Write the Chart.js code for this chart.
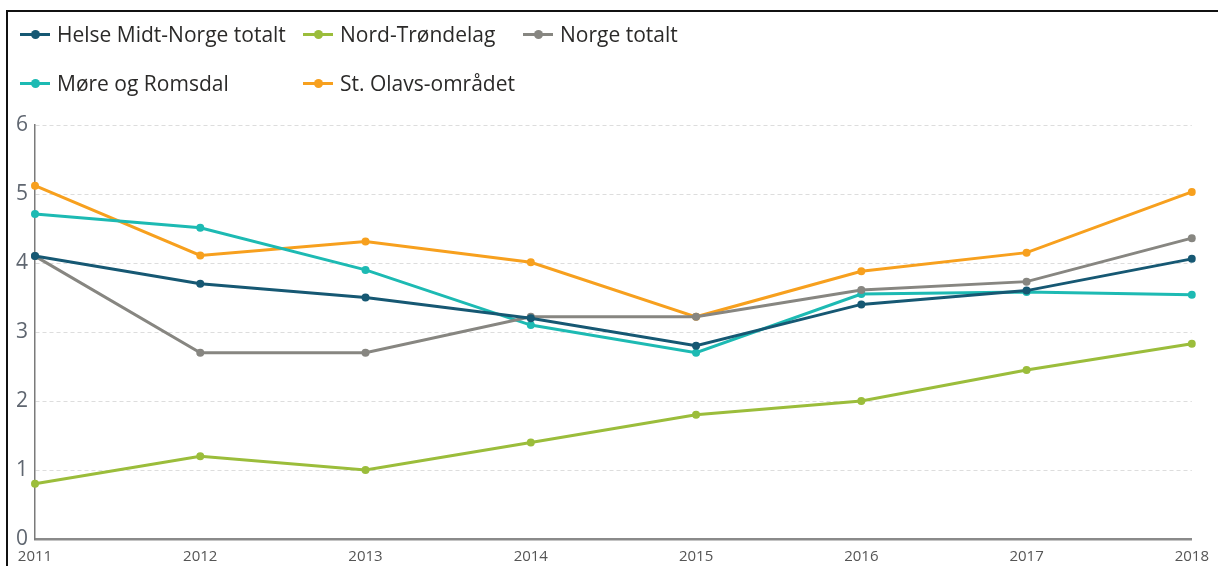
<!DOCTYPE html>
<html>
<head>
<meta charset="utf-8">
<script src="https://cdn.jsdelivr.net/npm/chart.js@4.4.1/dist/chart.umd.min.js"></script>
<style>
  html, body { margin: 0; padding: 0; background: #fff; }
  body { width: 1218px; height: 566px; position: relative; overflow: hidden; font-family: "Open Sans", "Noto Sans", sans-serif; }
  #frame { position: absolute; left: 6px; top: 10px; width: 1230px; height: 600px; border-left: 2px solid #111; border-top: 2px solid #111; box-sizing: border-box; }
  #wrap { position: absolute; left: 0; top: 0; width: 1218px; height: 566px; }
  #legend { position: absolute; left: 0; top: 0; width: 1218px; height: 110px; }
  .li { position: absolute; height: 28px; display: flex; align-items: center; font-size: 21px; color: #2b2a29; white-space: nowrap; }
  .mk { position: relative; width: 30px; height: 12px; margin-right: 7px; }
  .mk .ln { position: absolute; left: 0; top: 4.5px; width: 30px; height: 3px; }
  .mk .dt { position: absolute; left: 10.5px; top: 1.5px; width: 9px; height: 9px; border-radius: 50%; }
</style>
</head>
<body>
<div id="frame"></div>
<div id="wrap"><canvas id="c" width="1218" height="566"></canvas></div>
<div id="legend"></div>
<script>
const years = ["2011", "2012", "2013", "2014", "2015", "2016", "2017", "2018"];
const seriesNames = ["Helse Midt-Norge totalt", "Nord-Trøndelag", "Norge totalt", "Møre og Romsdal", "St. Olavs-området"];
const helseMidtNorge = [4.1, 3.7, 3.5, 3.2, 2.8, 3.4, 3.6, 4.06];
const nordTrondelag = [0.8, 1.2, 1.0, 1.4, 1.8, 2.0, 2.45, 2.83];
const norgeTotalt = [4.1, 2.7, 2.7, 3.22, 3.22, 3.61, 3.73, 4.36];
const moreRomsdal = [4.71, 4.51, 3.9, 3.1, 2.7, 3.55, 3.58, 3.54];
const stOlavs = [5.12, 4.11, 4.31, 4.01, 3.22, 3.88, 4.15, 5.03];
const yTicks = [0, 1, 2, 3, 4, 5, 6];

const colors = ["#165873", "#9bbd3b", "#878681", "#1dbab3", "#f7a01e"];
const values = [helseMidtNorge, nordTrondelag, norgeTotalt, moreRomsdal, stOlavs];

// HTML legend in a grid (two rows)
const legendPos = [[20, 20], [303, 20], [523, 20], [20, 69], [303, 69]];
const legend = document.getElementById('legend');
seriesNames.forEach((name, i) => {
  const d = document.createElement('div');
  d.className = 'li';
  d.style.left = legendPos[i][0] + 'px';
  d.style.top = legendPos[i][1] + 'px';
  d.innerHTML = '<span class="mk"><span class="ln" style="background:' + colors[i] + '"></span><span class="dt" style="background:' + colors[i] + '"></span></span>';
  const t = document.createElement('span');
  t.textContent = name;
  d.appendChild(t);
  legend.appendChild(d);
});

const datasets = seriesNames.map((name, i) => ({
  label: name,
  data: values[i],
  borderColor: colors[i],
  backgroundColor: colors[i],
  borderWidth: 3,
  pointRadius: 4,
  pointHoverRadius: 4,
  pointBorderWidth: 0,
  tension: 0,
  fill: false
}));

new Chart(document.getElementById('c'), {
  type: 'line',
  data: { labels: years, datasets: datasets },
  options: {
    responsive: false,
    animation: false,
    events: [],
    layout: { padding: { top: 125, right: 25, left: 0, bottom: 0 } },
    plugins: { legend: { display: false }, tooltip: { enabled: false } },
    scales: {
      x: {
        offset: false,
        grid: { display: false, drawTicks: false },
        border: { display: true, color: '#8a8a8a', width: 2.5 },
        ticks: { color: '#555555', font: { family: 'Open Sans', size: 15 }, padding: 9, maxRotation: 0, autoSkip: false },
        afterFit: (s) => { s.height = 27; }
      },
      y: {
        min: 0, max: 6,
        afterBuildTicks: (s) => { s.ticks = yTicks.map(v => ({ value: v })); },
        grid: { color: '#dddddd', lineWidth: 1, drawTicks: false },
        border: { display: true, color: '#7a7a7a', width: 1.5, dash: [4, 3] },
        ticks: { color: '#5f6670', font: { family: 'Open Sans', size: 21 }, padding: 7 },
        afterFit: (s) => { s.width = 35; }
      }
    }
  }
});
</script>
</body>
</html>
